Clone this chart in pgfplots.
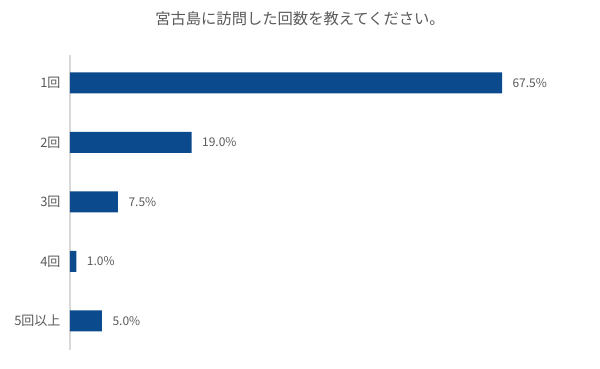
\documentclass[border=0pt]{standalone}
\usepackage{pgfplots}
\pgfplotsset{compat=1.18}
\usepackage{fontspec}
\setmainfont{Noto Sans CJK JP}
\definecolor{barblue}{HTML}{0B4A8C}
\definecolor{txtgray}{HTML}{595959}
\definecolor{axgray}{HTML}{D9D9D9}
\begin{document}
\begin{tikzpicture}
\useasboundingbox (0pt,0pt) rectangle (600pt,368pt);
\node[font=\fontsize{15.3}{17}\selectfont, text=txtgray] at (300pt,349pt) {宮古島に訪問した回数を教えてください。};
\begin{axis}[
  at={(70pt,18pt)}, anchor=south west,
  scale only axis, width=512pt, height=295pt,
  xbar, bar width=21pt,
  xmin=0, xmax=80,
  ymin=-0.47, ymax=4.49, y dir=reverse,
  axis x line=none,
  axis y line*=left,
  y axis line style={axgray, line width=1.5pt, -},
  ytick={0,1,2,3,4},
  yticklabels={1回,2回,3回,4回,5回以上},
  major tick length=0pt,
  yticklabel style={text=txtgray, font=\fontsize{13}{15}\selectfont, xshift=-6pt},
  /pgf/number format/assume math mode=true,
  nodes near coords={\pgfmathprintnumber[fixed,fixed zerofill,precision=1,assume math mode=true]{\pgfplotspointmeta}\%},
  nodes near coords style={text=txtgray, font=\fontsize{12}{14}\selectfont, anchor=west, xshift=7pt},
  point meta=x,
  clip=false,
]
\addplot[fill=barblue, draw=none] coordinates {(67.5,0) (19.0,1) (7.5,2) (1.0,3) (5.0,4)};
\end{axis}
\end{tikzpicture}
\end{document}
